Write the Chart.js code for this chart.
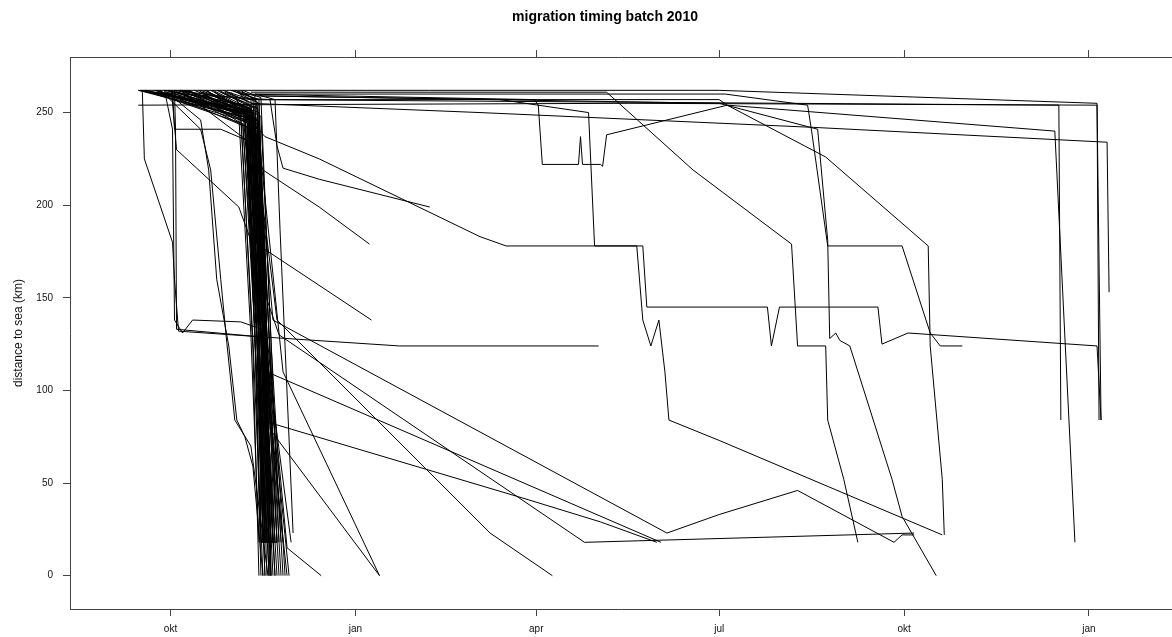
<!DOCTYPE html>
<html>
<head>
<meta charset="utf-8">
<title>migration timing batch 2010</title>
<script src="https://cdn.jsdelivr.net/npm/chart.js@4.4.0/dist/chart.umd.min.js"></script>
<style>
  html, body { margin: 0; padding: 0; background: #fff; }
  #wrap { position: relative; width: 1172px; height: 637px; }
</style>
</head>
<body>
<div id="wrap"><canvas id="myChart"></canvas></div>
<script>
const titleText = "migration timing batch 2010";
const yTitle = "distance to sea (km)";

// x = days since 1 okt 2010, y = distance to sea in km
const tickDays = [0, 92, 182, 273, 365, 457];
const tickLabels = ["okt", "jan", "apr", "jul", "okt", "jan"];
const yTicks = [0, 50, 100, 150, 200, 250];

// the dense group that goes down to sea in november
const bundleTracks = [
  [[-16,262],[34,248],[40,130],[44,18]],
  [[-14,262],[35,246],[41,128],[46,0]],
  [[-12,262],[36,244],[42,132],[45,18]],
  [[-10,261],[37,250],[43,130],[47,0]],
  [[-8,262],[38,247],[42,126],[48,18]],
  [[-6,262],[36,243],[43,131],[49,0]],
  [[-4,261],[39,249],[44,129],[47,18]],
  [[-2,262],[37,245],[44,127],[50,0]],
  [[0,262],[40,248],[45,133],[49,18]],
  [[2,262],[38,242],[45,130],[51,0]],
  [[4,261],[41,246],[46,128],[50,18]],
  [[6,262],[39,244],[45,125],[52,0]],
  [[8,262],[42,249],[47,131],[51,18]],
  [[10,261],[40,241],[46,129],[53,0]],
  [[12,262],[43,247],[48,127],[52,18]],
  [[14,262],[41,243],[47,132],[54,0]],
  [[16,261],[44,250],[49,130],[53,18]],
  [[18,262],[42,245],[48,126],[55,0]],
  [[20,262],[45,248],[50,128],[54,18]],
  [[22,261],[43,246],[49,131],[56,0]],
  [[24,262],[38,255],[44,135],[48,18]],
  [[26,262],[40,257],[45,130],[50,18]],
  [[28,261],[39,256],[46,128],[52,18]],
  [[30,262],[41,258],[47,133],[49,18]],
  [[32,262],[42,259],[46,127],[51,18]],
  [[34,261],[44,257],[48,129],[53,18]],
  [[35,262],[43,256],[49,132],[55,18]],
  [[36,262],[45,258],[50,126],[57,0]],
  [[-16,262],[36,252],[44,140],[58,0]],
  [[-12,262],[39,250],[46,135],[60,18]],
  [[-9,261],[41,251],[47,120],[56,18]],
  [[-3,262],[43,253],[48,118],[59,0]],
  [[3,262],[37,251],[43,124],[46,18]],
  [[9,262],[35,249],[41,122],[44,0]],
  [[15,261],[38,253],[45,134],[49,0]],
  [[21,262],[40,252],[46,136],[52,0]],
  [[-15,262],[38,250],[43,128],[47,18]],
  [[-11,261],[39,247],[44,131],[48,0]],
  [[-7,262],[40,245],[44,126],[46,18]],
  [[-1,262],[41,248],[45,129],[48,18]],
  [[5,262],[42,246],[46,133],[49,18]],
  [[11,261],[43,244],[47,127],[50,0]],
  [[17,262],[41,250],[45,130],[47,18]],
  [[23,262],[42,252],[46,128],[49,18]],
  [[27,261],[43,254],[47,131],[51,18]],
  [[31,262],[44,255],[48,129],[50,0]],
  [[33,262],[40,253],[44,127],[46,18]],
  [[-13,262],[37,249],[42,129],[45,0]],
  [[7,262],[39,251],[43,134],[47,18]],
  [[19,261],[41,249],[46,124],[50,18]],
  [[-2,261],[40,250],[44,130],[45,18],[53,18]]
];

// tracks that leave the bundle or stop early
const earlyTracks = [
  [[5,262],[38,235],[43,179],[100,138]],
  [[-10,261],[49.5,257],[53,232],[56,220],[74,214],[129,199]],
  [[-5,261],[37,249],[46,219],[74,199],[99,179]],
  [[-14,261],[-13,225],[1,180],[2,160],[4,132],[44,129]],
  [[-5,262],[15,241],[20,219],[25,160],[28,126],[32,84],[40,70],[46,21],[48.5,0]],
  [[-3,262],[15,246],[19,219],[23,160],[29,124],[33,84],[37,75],[41,59],[46,0]],
  [[1,262],[2,241],[25,241],[38,235],[44,130],[47,18]],
  [[0.5,262],[3,230],[34,199],[40,181],[47,0]],
  [[2,262],[2.5,241],[3,133],[44,129],[114,124],[213,124]],
  [[-3,262],[1,241],[2,138],[6,131],[11,138],[35,137],[45.5,133],[49.5,0]],
  [[42,260],[52,257],[54.5,187],[61,23]]
];

// tracks that reach the lower reaches slowly over winter and spring
const bottomTracks = [
  [[15,262],[40,252],[48,149],[54,130],[206,18],[370,23]],
  [[20,260],[42,246],[51,138],[247,23],[273,33],[312,46],[360,18],[364,22],[370,22]],
  [[25,261],[43.5,252],[48,110],[244,18]],
  [[30,261],[43.5,241],[48,83],[178,41],[214,29],[242,18]],
  [[10,261],[40,252],[53,138],[159,23],[190,0]],
  [[17,260],[43.5,241],[56,110],[104,0]],
  [[22,261],[44,245],[49.5,79],[104,0]],
  [[6,262],[41,250],[48,130],[58,15],[75,0]]
];

// tracks that stay upstream into the next year
const lateTracks = [
  [[-16,254],[228,255],[461,254],[463,84]],
  [[2,262],[40,257],[442,254],[443,84]],
  [[40,255],[154,250],[320,242],[466,234],[467,153]],
  [[-15,262],[273,262],[461,255],[462,84]],
  [[35,260],[181,257],[183,254],[185,222],[203,222],[204,237],[205,222],[214,222],[215,221],[217,238],[277,254],[440,240],[450,18]],
  [[-8,261],[35,252],[47,237],[74,225],[154,183],[167,178],[232,178],[235,138],[239,124],[243,138],[246,110],[248,84],[273,73],[384,22]],
  [[42,259],[164,257],[208,250],[211,178],[235,178],[237,145],[297,145],[299,124],[303,145],[352,145],[354,125],[367,131],[461,124],[463,84]],
  [[40,261],[217,261],[260,219],[309,179],[312,124],[326,124],[327,84],[335,52],[342,18]],
  [[42,260],[276,260],[317,254],[319,240],[327,178],[364,178],[378,131],[383,124],[394,124]],
  [[45,259],[273,255],[322,241],[327,181],[328,128],[331,131],[333,127],[338,124],[359,52],[364,32],[381,0]],
  [[40,257],[273,257],[277,254],[326,226],[377,178],[378,124],[384,52],[385,22]]
];

const allTracks = bundleTracks.concat(earlyTracks, bottomTracks, lateTracks);

const datasets = allTracks.map(track => ({
  data: track.map(p => ({x: p[0], y: p[1]})),
  showLine: true,
  pointRadius: 0,
  borderColor: "#000",
  borderWidth: 1,
  fill: false
}));

Chart.defaults.font.family = '"Liberation Sans", Arial, sans-serif';

const frameColor = "#444";

const titlePlugin = {
  id: "plotTitle",
  afterDraw(chart) {
    const ctx = chart.ctx;
    ctx.save();
    ctx.font = 'bold 14px "Liberation Sans", Arial, sans-serif';
    ctx.fillStyle = "#000";
    ctx.textAlign = "center";
    ctx.textBaseline = "middle";
    ctx.fillText(titleText, 605, 17);
    ctx.restore();
  }
};

function setDayTicks(scale) {
  scale.ticks = tickDays.map(v => ({value: v}));
}

new Chart("myChart", {
  type: "scatter",
  data: { datasets: datasets },
  options: {
    responsive: true,
    maintainAspectRatio: false,
    animation: false,
    layout: { padding: 0 },
    plugins: {
      legend: { display: false },
      title: { display: false },
      tooltip: { enabled: false }
    },
    scales: {
      x: {
        type: "linear",
        position: "bottom",
        min: -50,
        max: 498.3,
        afterBuildTicks: setDayTicks,
        afterFit: s => { s.height = 28; },
        grid: { drawOnChartArea: false, drawTicks: true, tickLength: 7, color: frameColor },
        border: { display: true, color: frameColor, width: 1 },
        ticks: {
          autoSkip: false,
          maxRotation: 0,
          padding: 7,
          color: "#111",
          font: { size: 10 },
          callback: v => tickLabels[tickDays.indexOf(v)]
        }
      },
      xTop: {
        type: "linear",
        position: "top",
        min: -50,
        max: 498.3,
        afterBuildTicks: setDayTicks,
        afterFit: s => { s.height = 57; },
        grid: { drawOnChartArea: false, drawTicks: true, tickLength: 7, color: frameColor },
        border: { display: true, color: frameColor, width: 1 },
        ticks: { callback: () => "", font: { size: 10 } }
      },
      y: {
        type: "linear",
        min: -18,
        max: 280,
        afterBuildTicks: s => { s.ticks = yTicks.map(v => ({value: v})); },
        afterFit: s => { s.width = 70; },
        grid: { drawOnChartArea: false, drawTicks: true, tickLength: 7, color: frameColor },
        border: { display: true, color: frameColor, width: 1 },
        ticks: { padding: 10, color: "#111", font: { size: 10 } },
        title: {
          display: true,
          text: yTitle,
          color: "#111",
          font: { size: 12 },
          padding: { top: 11, bottom: 0 }
        }
      }
    }
  },
  plugins: [titlePlugin]
});
</script>
</body>
</html>
